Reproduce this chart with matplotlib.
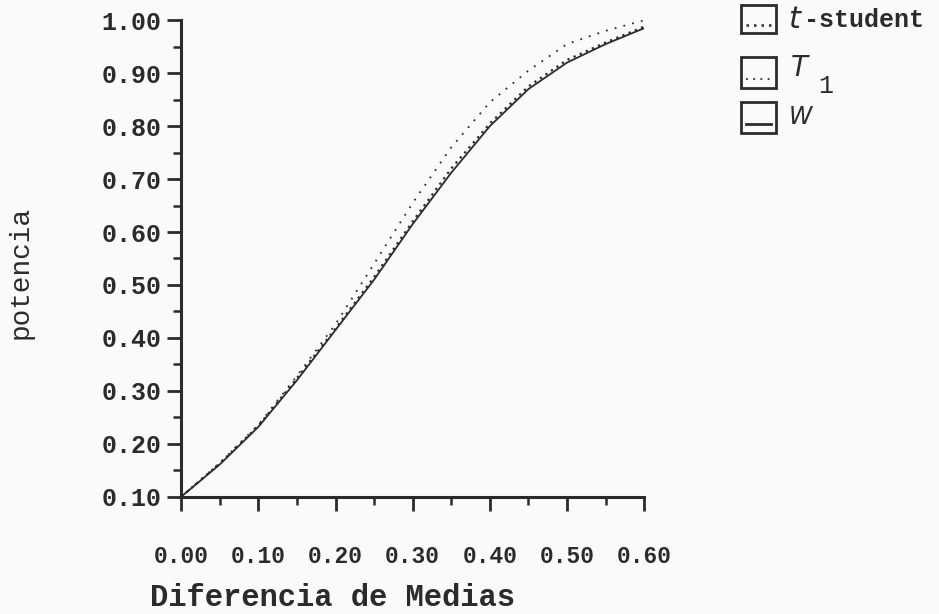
import matplotlib.pyplot as plt
from matplotlib.lines import Line2D
from matplotlib.patches import Rectangle
from matplotlib.ticker import MultipleLocator

# power curves vs. difference of means
dif_medias = [0.00, 0.05, 0.10, 0.15, 0.20, 0.25, 0.30, 0.35, 0.40, 0.45, 0.50, 0.55, 0.60]
pot_student = [0.100, 0.163, 0.234, 0.324, 0.418, 0.515, 0.620, 0.720, 0.805, 0.875, 0.925, 0.958, 0.988]
pot_t1 = [0.100, 0.164, 0.236, 0.328, 0.426, 0.540, 0.655, 0.760, 0.845, 0.905, 0.955, 0.980, 1.000]
pot_w = [0.100, 0.161, 0.232, 0.320, 0.415, 0.510, 0.615, 0.712, 0.800, 0.870, 0.920, 0.955, 0.985]

xticks = [0.0, 0.1, 0.2, 0.3, 0.4, 0.5, 0.6]
yticks = [0.1, 0.2, 0.3, 0.4, 0.5, 0.6, 0.7, 0.8, 0.9, 1.0]

ink = "#2b2b2b"
mono = "Liberation Mono"

fig = plt.figure(figsize=(9.39, 6.14), dpi=100, facecolor="#fafafa")
ax = fig.add_axes([0.193, 0.191, 0.493, 0.776])
ax.set_facecolor("#fafafa")

ax.plot(dif_medias, pot_w, color=ink, lw=1.3)
ax.plot(dif_medias, pot_student, color=ink, lw=1.6, ls=(0, (1, 2)))
ax.plot(dif_medias, pot_t1, color=ink, lw=1.3, ls=(0, (1, 4)))

ax.set_xlim(0, 0.6)
ax.set_ylim(0.1, 1.0)
for side in ["top", "right"]:
    ax.spines[side].set_visible(False)
for side in ["left", "bottom"]:
    ax.spines[side].set_linewidth(2.2)
    ax.spines[side].set_color(ink)

ax.set_xticks(xticks)
ax.set_xticklabels([f"{v:.2f}" for v in xticks])
ax.set_yticks(yticks)
ax.set_yticklabels([f"{v:.2f}" for v in yticks])
ax.xaxis.set_minor_locator(MultipleLocator(0.05))
ax.yaxis.set_minor_locator(MultipleLocator(0.05))
ax.tick_params(which="major", length=10, width=2, color=ink, direction="out")
ax.tick_params(which="minor", length=6, width=1.8, color=ink, direction="out")
ax.tick_params(axis="x", which="major", pad=25)
ax.tick_params(axis="y", which="major", pad=4)
for lab in ax.get_xticklabels():
    lab.set_fontfamily(mono)
    lab.set_fontweight("bold")
    lab.set_fontsize(16.5)
    lab.set_color(ink)
for lab in ax.get_yticklabels():
    lab.set_fontfamily(mono)
    lab.set_fontweight("bold")
    lab.set_fontsize(18)
    lab.set_color(ink)

fig.text(0.022, 0.557, "potencia", rotation=90, ha="center", va="center",
         family=mono, fontsize=20, color=ink)
fig.text(0.16, 0.026, "Diferencia de Medias", ha="left", va="center",
         family=mono, fontweight="bold", fontsize=22, color=ink)

# legend drawn by hand: small boxes with a line sample inside
W, H = 939, 614
rows = [
    (5, 33, (0, (1, 2)), 1.8),
    (57, 88, (0, (1, 3)), 1.3),
    (102, 133, "-", 2.0),
]
for top, bot, style, lw in rows:
    fig.add_artist(Rectangle((741 / W, 1 - bot / H), 35 / W, (bot - top) / H,
                             transform=fig.transFigure, fill=False,
                             edgecolor=ink, lw=2))
    ymid = 1 - (top + (bot - top) * 0.7) / H
    fig.add_artist(Line2D([746 / W, 771 / W], [ymid, ymid], transform=fig.transFigure,
                          color=ink, lw=lw, ls=style))

fig.text(788 / W, 1 - 20 / H, "$t$", ha="left", va="center", fontsize=22,
         color=ink, family="DejaVu Serif")
fig.text(804 / W, 1 - 20 / H, "-student", ha="left", va="center", fontsize=18,
         family=mono, fontweight="bold", color=ink)
fig.text(790 / W, 1 - 68 / H, "$T$", ha="left", va="center", fontsize=20, color=ink)
fig.text(818 / W, 1 - 86 / H, "1", ha="left", va="center", fontsize=18,
         family=mono, color=ink)
fig.text(788 / W, 1 - 117 / H, "$W$", ha="left", va="center", fontsize=17, color=ink)

fig.savefig("out.png", dpi=100, facecolor=fig.get_facecolor())
